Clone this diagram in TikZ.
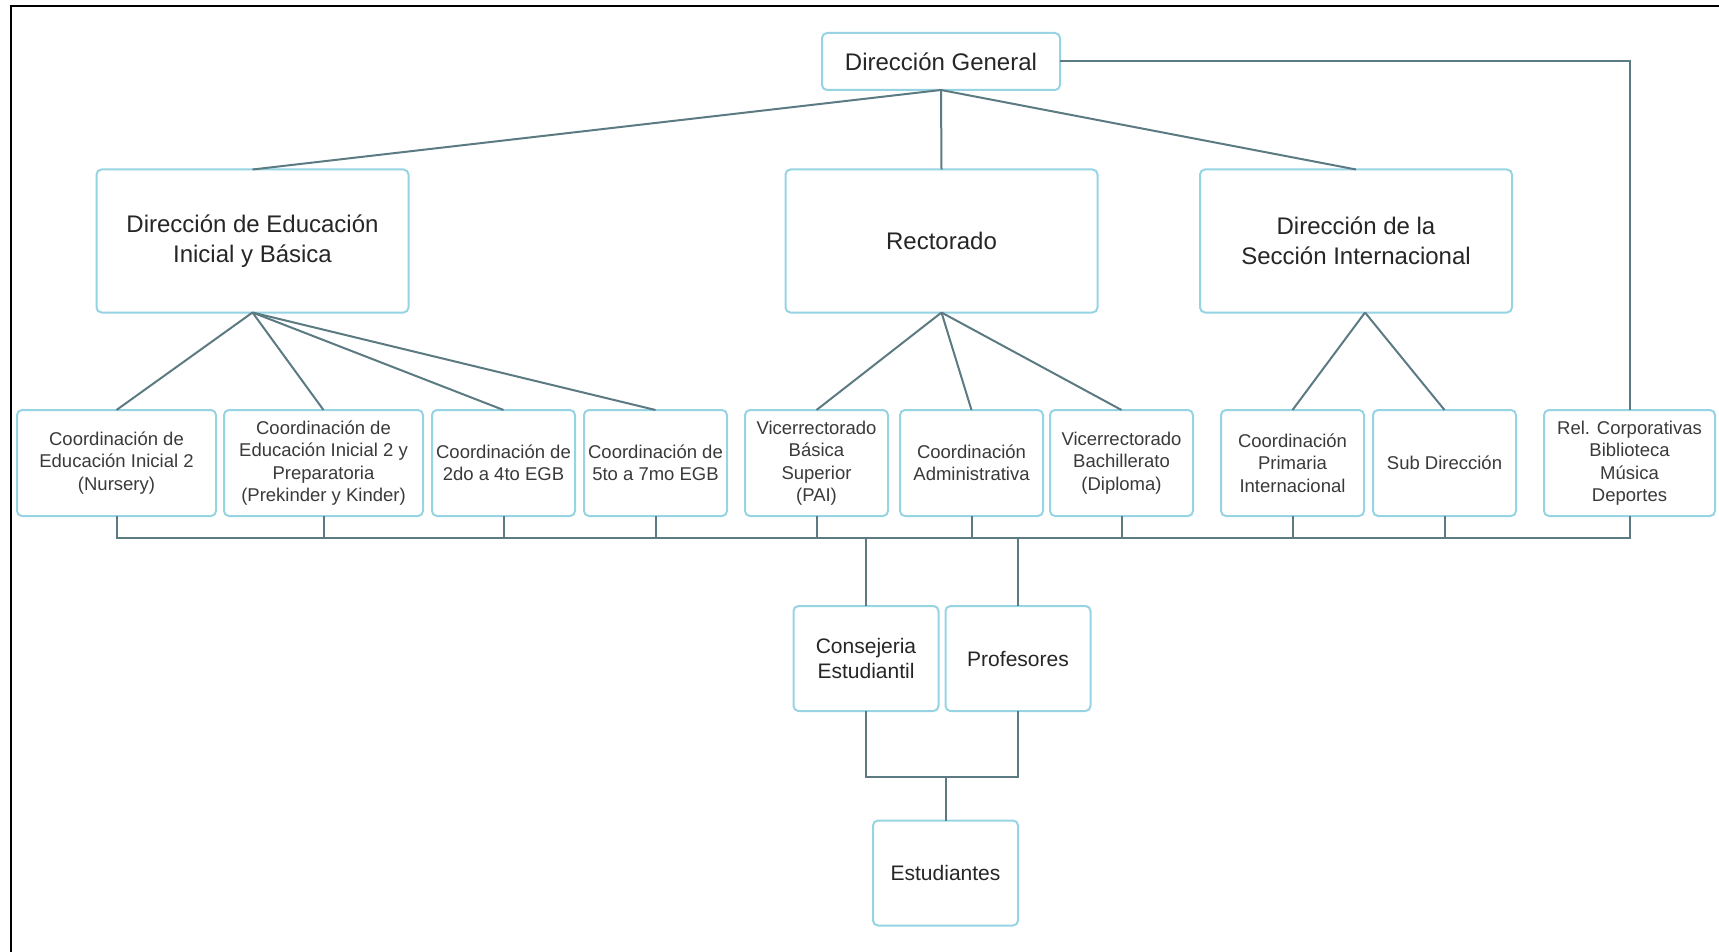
\documentclass[tikz,border=0pt]{standalone}
\usepackage{fontspec}
\setmainfont{Liberation Sans}
\usetikzlibrary{positioning,calc}
\definecolor{boxline}{RGB}{150,212,228}
\definecolor{linkline}{RGB}{92,122,130}
\definecolor{txtgray}{RGB}{58,58,58}

\begin{document}
\begin{tikzpicture}[x=1pt,y=-1pt,
    box/.style = {draw=boxline, line width=2pt, rounded corners=5pt, fill=white, align=center, inner sep=2pt, outer sep=0pt},
    topbox/.style = {box, minimum width=238pt, minimum height=57pt, font=\fontsize{24}{29.5}\selectfont, text=black!85},
    headbox/.style = {box, minimum width=312pt, minimum height=143pt, font=\fontsize{24}{29.5}\selectfont, text=black!85},
    unitbox/.style = {box, minimum width=143pt, minimum height=106pt, font=\fontsize{18.5}{22.5}\selectfont, text=txtgray},
    basebox/.style = {box, minimum width=145pt, minimum height=105pt, font=\fontsize{21}{25}\selectfont, text=black!85},
    link/.style = {draw=linkline, line width=2pt}]
     \useasboundingbox (0,0) rectangle (1719,952);
     \draw[line width=2.5pt] (11,952) -- (11,6) -- (1719,6);

     \node[topbox] (gen) at (941,61.5) {Dirección General};
     \node[headbox] (deib) at (252.5,241) {Dirección de Educación\\Inicial y Básica};
     \node[headbox] (rect) at (941.5,241) {Rectorado};
     \node[headbox] (dsi) at (1356,241) {Dirección de la\\Sección Internacional};

     \node[unitbox, minimum width=199pt] (c1) at (116.5,463) {Coordinación de\\Educación Inicial 2\\(Nursery)};
     \node[unitbox, minimum width=199pt] (c2) [right=8pt of c1] {Coordinación de\\Educación Inicial 2 y\\Preparatoria\\(Prekinder y Kinder)};
     \node[unitbox] (c3) [right=9pt of c2] {Coordinación de\\2do a 4to EGB};
     \node[unitbox] (c4) [right=9pt of c3] {Coordinación de\\5to a 7mo EGB};
     \node[unitbox] (v1) [right=18pt of c4] {Vicerrectorado\\Básica\\Superior\\(PAI)};
     \node[unitbox] (ca) [right=12pt of v1] {Coordinación\\Administrativa};
     \node[unitbox] (v2) [right=7pt of ca] {Vicerrectorado\\Bachillerato\\(Diploma)};
     \node[unitbox] (cpi) [right=28pt of v2] {Coordinación\\Primaria\\Internacional};
     \node[unitbox] (sd) [right=9pt of cpi] {Sub Dirección};
     \node[unitbox, minimum width=171pt] (rel) [right=28pt of sd] {Rel. Corporativas\\Biblioteca\\Música\\Deportes};

     \node[basebox] (cons) at (866,658.5) {Consejeria\\Estudiantil};
     \node[basebox] (prof) at (1018,658.5) {Profesores};
     \node[basebox] (est) at (945.5,873) {Estudiantes};

     \draw[link] (gen.south) -- (deib.north);
     \draw[link] (gen.south) -- (rect.north);
     \draw[link] (gen.south) -- (dsi.north);
     \draw[link] (gen.east) -| (rel.north);

     \foreach \k in {c1,c2,c3,c4}
        \draw[link] (deib.south) -- (\k.north);
     \foreach \k in {v1,ca,v2}
        \draw[link] (rect.south) -- (\k.north);
     \foreach \k in {cpi,sd}
        \draw[link] ($(dsi.south)+(9,0)$) -- (\k.north);

     % common line under the units
     \coordinate (bus) at (0,538);
     \draw[link] (c1.south) -- (c1.south |- bus) -| (rel.south);
     \foreach \k in {c2,c3,c4,v1,ca,v2,cpi,sd}
        \draw[link] (\k.south) -- (\k.south |- bus);
     \draw[link] (cons.north) -- (cons.north |- bus);
     \draw[link] (prof.north) -- (prof.north |- bus);

     \draw[link] (cons.south) -- ++(0,66) -| (prof.south);
     \draw[link] (est.north) -- ++(0,-44);
\end{tikzpicture}
\end{document}
